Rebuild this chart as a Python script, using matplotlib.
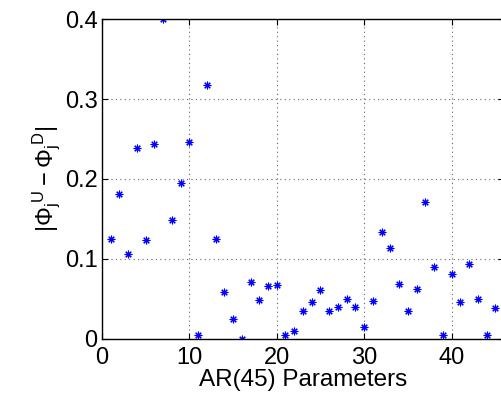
import numpy as np
import matplotlib
matplotlib.use("Agg")
import matplotlib.pyplot as plt

plt.rcParams['font.family'] = ['Liberation Sans', 'DejaVu Sans']
plt.rcParams['mathtext.fontset'] = 'custom'
plt.rcParams['mathtext.rm'] = 'Liberation Sans'
plt.rcParams['mathtext.it'] = 'Liberation Sans'

# |Phi_j^U - Phi_j^D| for each AR(45) parameter
params = np.arange(1, 46)
diffs = [0.125, 0.181, 0.106, 0.239, 0.123, 0.244, 0.400, 0.148, 0.195, 0.246,
         0.004, 0.318, 0.125, 0.058, 0.024, 0.000, 0.071, 0.048, 0.066, 0.067,
         0.005, 0.009, 0.035, 0.046, 0.061, 0.034, 0.039, 0.049, 0.039, 0.014,
         0.047, 0.134, 0.114, 0.068, 0.034, 0.062, 0.171, 0.090, 0.005, 0.081,
         0.046, 0.093, 0.050, 0.004, 0.038]
xticks = [0, 10, 20, 30, 40]
yticks = [0, 0.1, 0.2, 0.3, 0.4]

fig = plt.figure(figsize=(5.02, 3.95), dpi=100)
ax = fig.add_axes([0.203, 0.143, 0.801, 0.808])
ax.plot(params, diffs, linestyle='none', marker=(8, 2, 0), color='b',
        ms=5.5, mew=0.8)
ax.set_xlim(0, 46)
ax.set_ylim(0, 0.4)
ax.set_xticks(xticks)
ax.set_yticks(yticks)
ax.set_yticklabels(['0', '0.1', '0.2', '0.3', '0.4'])
ax.grid(True, linestyle=(0, (1, 3)), color='#666666', linewidth=0.8)
ax.tick_params(direction='in', top=True, right=True, labelsize=17, length=4,
               pad=3)
ax.tick_params(axis='x', pad=6)
for s in ax.spines.values():
    s.set_linewidth(1.0)
ax.set_xlabel('AR(45) Parameters', fontsize=17.5, labelpad=0)
ax.set_ylabel(r'$|\Phi_{j}{}^{U}-\Phi_{j}{}^{D}|$', fontsize=17, labelpad=2)

fig.savefig('out.png', dpi=100)
